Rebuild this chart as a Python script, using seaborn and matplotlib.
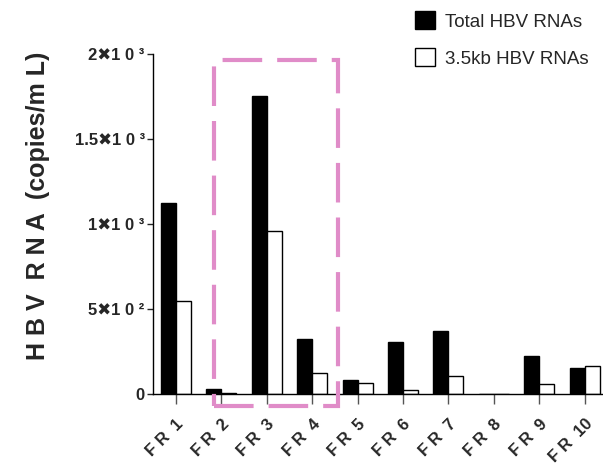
import pandas as pd
import seaborn as sns
import matplotlib.pyplot as plt
from matplotlib.patches import Rectangle, Patch

# values (copies/mL)
samples = ['FR 1', 'FR 2', 'FR 3', 'FR 4', 'FR 5', 'FR 6', 'FR 7', 'FR 8', 'FR 9', 'FR 10']
total_rna = [1124, 27, 1753, 323, 82, 304, 371, 0, 224, 153]
pgrna = [547, 4, 959, 122, 63, 25, 104, 0, 57, 165]
series = ['Total HBV RNAs', '3.5kb HBV RNAs']
ytick_vals = [0, 500, 1000, 1500, 2000]
ytick_labels = ['0', '5\u27161 0 \u00b2', '1\u27161 0 \u00b3', '1.5\u27161 0 \u00b3', '2\u27161 0 \u00b3']

df = pd.DataFrame({
  'sample': samples * 2,
  'value': total_rna + pgrna,
  'series': [series[0]] * len(samples) + [series[1]] * len(samples),
})

sns.set_style('ticks')
plt.rcParams['font.family'] = ['Liberation Sans', 'DejaVu Sans']

fig = plt.figure(figsize=(6.03, 4.65), dpi=100)
ax = fig.add_axes([0.2537, 0.1527, 0.7463, 0.7313])

sns.barplot(
  data=df, x='sample', y='value', hue='series', ax=ax,
  palette={series[0]: 'black', series[1]: 'white'},
  edgecolor='black', linewidth=1, width=0.66, legend=False,
)

ax.set_xlim(-0.5, 9.4)
ax.set_ylim(0, 2000)
ax.set_yticks(ytick_vals)
ax.set_yticklabels(ytick_labels, fontsize=12, fontweight='bold')
ax.set_xticks(range(len(samples)))
ax.set_xticklabels(
  [s.replace('FR ', 'F R  ') for s in samples],
  rotation=45, ha='right', va='top', rotation_mode='anchor',
  fontsize=12, fontweight='bold',
)
ax.tick_params(axis='x', length=7, width=1, color='#555555', pad=9)
ax.tick_params(axis='y', length=4, width=1, pad=2)
ax.set_xlabel('')
ax.set_ylabel('H B V  R N A  (copies/m L)', fontsize=18, fontweight='bold')
ax.yaxis.set_label_coords(-0.228, 0.553)
sns.despine(ax=ax)
for sp in ['left', 'bottom']:
  ax.spines[sp].set_linewidth(1)
  ax.spines[sp].set_color('black')

# highlight box around FR 2 - FR 4
box = Rectangle((0.85, -70), 2.72, 2035, fill=False, edgecolor='#e08cc8',
                linewidth=3, linestyle=(0, (9.5, 3.6)), clip_on=False, zorder=5)
ax.add_patch(box)

handles = [Patch(facecolor='black', edgecolor='black', label=series[0]),
           Patch(facecolor='white', edgecolor='black', linewidth=1, label=series[1])]
fig.legend(handles=handles, loc='upper left', bbox_to_anchor=(0.66, 1.012),
           frameon=False, fontsize=13.5, handlelength=1.1, handleheight=1.1,
           handletextpad=0.5, labelspacing=0.95)

fig.savefig('out.png', dpi=100)
